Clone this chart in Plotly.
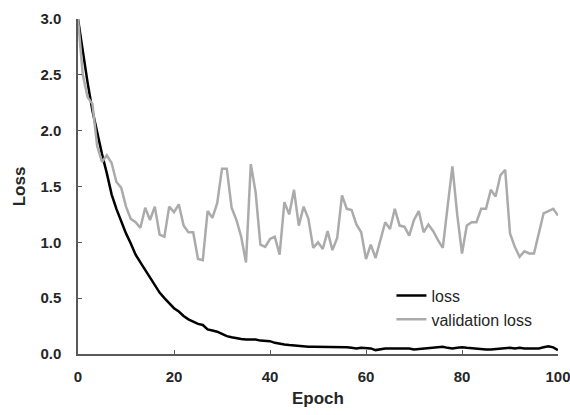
import plotly.graph_objects as go

epochs = list(range(101))

loss = [3.00, 2.70, 2.43, 2.18, 1.98, 1.79, 1.62, 1.43, 1.30, 1.19,
        1.08, 0.99, 0.89, 0.82, 0.75, 0.69, 0.62, 0.55, 0.50, 0.45,
        0.41, 0.38, 0.34, 0.31, 0.29, 0.27, 0.26, 0.22, 0.21, 0.20,
        0.18, 0.16, 0.15, 0.14, 0.135, 0.13, 0.13, 0.13, 0.12, 0.12,
        0.115, 0.10, 0.09, 0.085, 0.08, 0.075, 0.07, 0.065, 0.065, 0.065,
        0.065, 0.06, 0.06, 0.065, 0.065, 0.06, 0.06, 0.055, 0.05, 0.055,
        0.055, 0.05, 0.035, 0.045, 0.05, 0.05, 0.05, 0.045, 0.05, 0.05,
        0.04, 0.045, 0.05, 0.05, 0.055, 0.06, 0.065, 0.055, 0.05, 0.055,
        0.06, 0.055, 0.05, 0.05, 0.045, 0.04, 0.04, 0.045, 0.05, 0.05,
        0.055, 0.05, 0.055, 0.05, 0.05, 0.05, 0.05, 0.06, 0.07, 0.06,
        0.035]

val_loss = [3.00, 2.50, 2.30, 2.24, 1.86, 1.72, 1.78, 1.71, 1.54, 1.49,
            1.32, 1.21, 1.18, 1.13, 1.31, 1.20, 1.32, 1.07, 1.05, 1.32,
            1.27, 1.34, 1.15, 1.09, 1.09, 0.85, 0.84, 1.28, 1.22, 1.35,
            1.66, 1.66, 1.31, 1.20, 1.05, 0.82, 1.70, 1.45, 0.98, 0.96,
            1.03, 1.05, 0.89, 1.36, 1.25, 1.47, 1.15, 1.32, 1.21, 0.95,
            1.00, 0.94, 1.10, 0.93, 1.04, 1.42, 1.30, 1.29, 1.16, 1.09,
            0.85, 0.98, 0.86, 1.02, 1.18, 1.12, 1.30, 1.15, 1.14, 1.06,
            1.20, 1.28, 1.09, 1.16, 1.10, 1.02, 0.95, 1.32, 1.68, 1.25,
            0.90, 1.15, 1.18, 1.18, 1.30, 1.30, 1.47, 1.41, 1.60, 1.65,
            1.08, 0.96, 0.87, 0.92, 0.90, 0.90, 1.08, 1.26, 1.28, 1.30,
            1.24]

x_ticks = [0, 20, 40, 60, 80, 100]
y_ticks = [0.0, 0.5, 1.0, 1.5, 2.0, 2.5, 3.0]

FONT = "Liberation Sans, Arial, sans-serif"
TXT = "#262626"

fig = go.Figure()
fig.add_trace(go.Scatter(x=epochs, y=loss, mode="lines", name="loss",
                         line=dict(color="#000000", width=2.5)))
fig.add_trace(go.Scatter(x=epochs, y=val_loss, mode="lines", name="validation loss",
                         line=dict(color="#ababab", width=2.5)))

fig.update_layout(
    width=570, height=415,
    margin=dict(l=78, r=12, t=19, b=61),
    paper_bgcolor="white", plot_bgcolor="white",
    showlegend=True,
    legend=dict(x=0.653, y=0.225, xanchor="left", yanchor="top",
                bgcolor="rgba(0,0,0,0)", tracegroupgap=0,
                font=dict(family=FONT, size=16, color=TXT)),
    xaxis=dict(range=[0, 100], tickvals=x_ticks,
               ticktext=[f"<b>{v}</b>" for v in x_ticks],
               automargin=False, ticklabeloverflow="allow",
               showgrid=False, zeroline=False, showline=True,
               linecolor="#595959", linewidth=1.5,
               ticks="inside", ticklen=4, tickcolor="#595959",
               ticklabelstandoff=8,
               tickfont=dict(family=FONT, size=15, color=TXT),
               title=dict(text="<b>Epoch</b>", standoff=8,
                          font=dict(family=FONT, size=17, color=TXT))),
    yaxis=dict(range=[0, 3], tickvals=y_ticks,
               ticktext=[f"<b>{v:.1f}</b>" for v in y_ticks],
               automargin=False, ticklabeloverflow="allow",
               showgrid=False, zeroline=False, showline=True,
               linecolor="#595959", linewidth=1.5,
               ticks="inside", ticklen=4, tickcolor="#595959",
               ticklabelstandoff=12,
               tickfont=dict(family=FONT, size=15, color=TXT),
               title=dict(text="<b>Loss</b>", standoff=10,
                          font=dict(family=FONT, size=17, color=TXT))),
)

fig.write_html("out.html")
